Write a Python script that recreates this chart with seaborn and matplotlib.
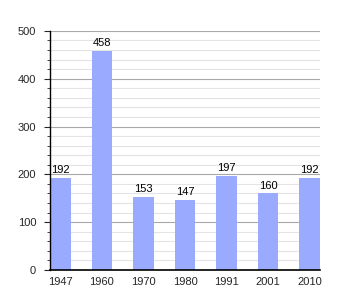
import matplotlib
matplotlib.use("Agg")
import matplotlib.pyplot as plt
import seaborn as sns
import pandas as pd
from matplotlib.ticker import MultipleLocator

years = ["1947", "1960", "1970", "1980", "1991", "2001", "2010"]
population = [192, 458, 153, 147, 197, 160, 192]

df = pd.DataFrame({"year": years, "pop": population})

sns.set_style("white")
plt.rcParams['font.family'] = ['Liberation Sans', 'DejaVu Sans']

fig = plt.figure(figsize=(3.5, 3.0), dpi=100)
ax = fig.add_axes([0.143, 0.1, 0.771, 0.797])

ax.set_ylim(0, 500)
ax.yaxis.set_major_locator(MultipleLocator(100))
ax.yaxis.set_minor_locator(MultipleLocator(20))
ax.grid(axis="y", which="minor", color="#e4e4e4", linewidth=0.8)
ax.grid(axis="y", which="major", color="#a8a8a8", linewidth=0.8)
ax.set_axisbelow(True)

sns.barplot(data=df, x="year", y="pop", color="#99aaff", saturation=1, width=0.5,
            linewidth=0, ax=ax)
ax.set_xlim(-0.25, 6.25)

for i, v in enumerate(population):
    ax.text(i, v + 6, str(v), ha="center", va="bottom", fontsize=8, color="black")

for s in ["top", "right"]:
    ax.spines[s].set_visible(False)
ax.spines["left"].set_color("black")
ax.spines["bottom"].set_color("black")
ax.spines["left"].set_linewidth(1)
ax.spines["bottom"].set_linewidth(1.2)

ax.tick_params(axis="y", which="major", left=True, length=4, width=0.8, labelsize=8, pad=6)
ax.tick_params(axis="y", which="minor", left=True, length=2.5, width=0.6)
ax.tick_params(axis="x", bottom=False, labelsize=8, pad=1.5)
ax.set_xlabel("")
ax.set_ylabel("")

fig.savefig("out.png", dpi=100)
